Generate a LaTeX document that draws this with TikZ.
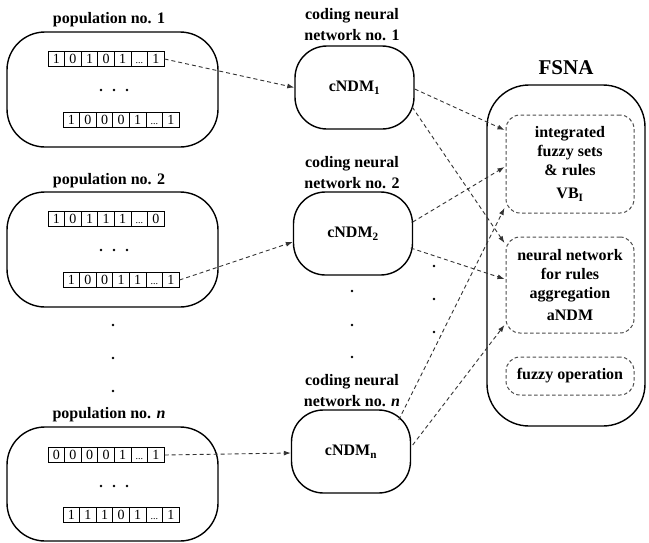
\documentclass[tikz,border=0pt]{standalone}
\usepackage{fontspec}
\setmainfont{Liberation Serif}
\usetikzlibrary{arrows.meta,calc}

\tikzset{
  popbox/.style={draw, line width=1.4pt, rounded corners=38pt, inner sep=0pt},
  codebox/.style={draw, line width=1.4pt, rounded corners=32pt, minimum width=119pt, minimum height=83pt,
    inner sep=0pt, font=\bfseries\fontsize{16}{19}\selectfont},
  title/.style={font=\bfseries\fontsize{16}{21}\selectfont, align=center, inner sep=0pt},
  bitcell/.style={draw, line width=0.7pt, minimum width=16.6pt, minimum height=15pt, inner sep=0pt,
    text height=9.5pt, text depth=1.5pt, font=\fontsize{14}{14}\selectfont},
  innerbox/.style={draw=black!70, dashed, dash pattern=on 3.5pt off 2.5pt, line width=1pt,
    rounded corners=14pt, minimum width=128pt, inner sep=0pt, align=center,
    font=\bfseries\fontsize{16}{19}\selectfont},
  flow/.style={draw=black!80, line width=0.9pt, dash pattern=on 4pt off 3pt,
    -{Latex[length=7pt,width=5pt]}},
  dotmark/.style={fill, circle, inner sep=0pt, minimum size=2.6pt},
}

% one row of a chromosome: name, left x, centre y, list of genes
\newcommand\genrow[4]{%
  \foreach \g [count=\k] in {#4} {
    \node[bitcell] (#1-\k) at ({#2+(\k-0.5)*16.6},#3) {\g};
  }%
}
\newcommand\gap{{\fontsize{10}{10}\selectfont...}}
% three horizontal dots inside a population
\newcommand\hdots[3]{%
  \node[dotmark] (#1a) at (#2-13,#3) {};
  \node[dotmark] (#1b) at (#2,#3) {};
  \node[dotmark] (#1c) at (#2+13,#3) {};
}

\begin{document}
\begin{tikzpicture}[x=1pt,y=-1pt]
\useasboundingbox (0,0) rectangle (649,542);

% ---------------- populations ----------------
\node[title] (t1) at (109,20) {population no. 1};
\node[popbox, minimum width=211pt, minimum height=115pt] (p1) at (112.5,89.5) {};
\genrow{r11}{48}{59}{1,0,1,0,1,\gap,1}
\hdots{d1}{114}{90}
\genrow{r12}{63}{120}{1,0,0,0,1,\gap,1}

\node[title] (t2) at (109,181) {population no. 2};
\node[popbox, minimum width=211pt, minimum height=115pt] (p2) at (112.5,249.5) {};
\genrow{r21}{48}{219}{1,0,1,1,1,\gap,0}
\hdots{d2}{114}{250}
\genrow{r22}{63}{280}{1,0,0,1,1,\gap,1}

\node[dotmark] (v1) at (113,325) {};
\node[dotmark] (v2) at (113,358) {};
\node[dotmark] (v3) at (113,391) {};

\node[title] (tn) at (109,415) {population no. \textit{n}};
\node[popbox, minimum width=211pt, minimum height=114pt] (pn) at (112.5,484) {};
\genrow{rn1}{48}{455}{0,0,0,0,1,\gap,1}
\hdots{dn}{114}{486}
\genrow{rn2}{63}{515}{1,1,1,0,1,\gap,1}

% ---------------- coding neural networks ----------------
\node[title] (ct1) at (352,25) {coding neural\\network no. 1};
\node[codebox] (c1) at (354.5,87.5) {cNDM\textsubscript{1}};

\node[title] (ct2) at (352,173) {coding neural\\network no. 2};
\node[codebox] (c2) at (353,233.5) {cNDM\textsubscript{2}};

\node[dotmark] (m1) at (352,291) {};
\node[dotmark] (m2) at (352,325) {};
\node[dotmark] (m3) at (352,357) {};

\node[title] (ctn) at (352,391) {coding neural\\network no. \textit{n}};
\node[codebox] (cn) at (351,451.5) {cNDM\textsubscript{n}};

\node[dotmark] (k1) at (434,266) {};
\node[dotmark] (k2) at (434,299) {};
\node[dotmark] (k3) at (434,332) {};

% ---------------- FSNA ----------------
\node[font=\bfseries\fontsize{21}{21}\selectfont, inner sep=0pt] (ft) at (566,68) {FSNA};
\node[draw, line width=1.4pt, rounded corners=42pt, minimum width=158pt, minimum height=341pt,
  inner sep=0pt] (fsna) at (566,255.5) {};
\node[innerbox, minimum height=98pt] (vb) at (570,164)
  {integrated\\fuzzy sets\\\& rules\\[4pt]VB\textsubscript{I}};
\node[innerbox, minimum height=96pt] (andm) at (570,285)
  {neural network\\for rules\\aggregation\\[3pt]aNDM};
\node[innerbox, minimum height=38pt] (fop) at (570,376) {fuzzy operation};

% ---------------- connectors ----------------
% offsets are in picture units (y grows downwards)
\draw[flow] (r11-7.east) -- (c1.west);
\draw[flow] (r22-7.east) -- ($(c2.west)+(0,8.5)$);
\draw[flow] (rn1-7.east) -- ($(cn.west)+(0,1.5)$);

\draw[flow] ($(c1.east)+(0,1.5)$) -- ($(vb.west)+(-1,-34)$);
\draw[flow] ($(c1.east)+(-2.5,19.5)$) -- ($(andm.west)+(-1,-42)$);
\draw[flow] ($(c2.east)+(-0.5,-11.5)$) -- ($(vb.west)+(-1,3)$);
\draw[flow] ($(c2.east)+(-2.5,14.5)$) -- ($(andm.west)+(-1,-6)$);
\draw[flow] ($(cn.east)+(-12.5,-31.5)$) -- ($(vb.west)+(-1,44)$);
\draw[flow] ($(cn.east)+(1.5,-6.5)$) -- ($(andm.west)+(-1,40)$);
\end{tikzpicture}
\end{document}
